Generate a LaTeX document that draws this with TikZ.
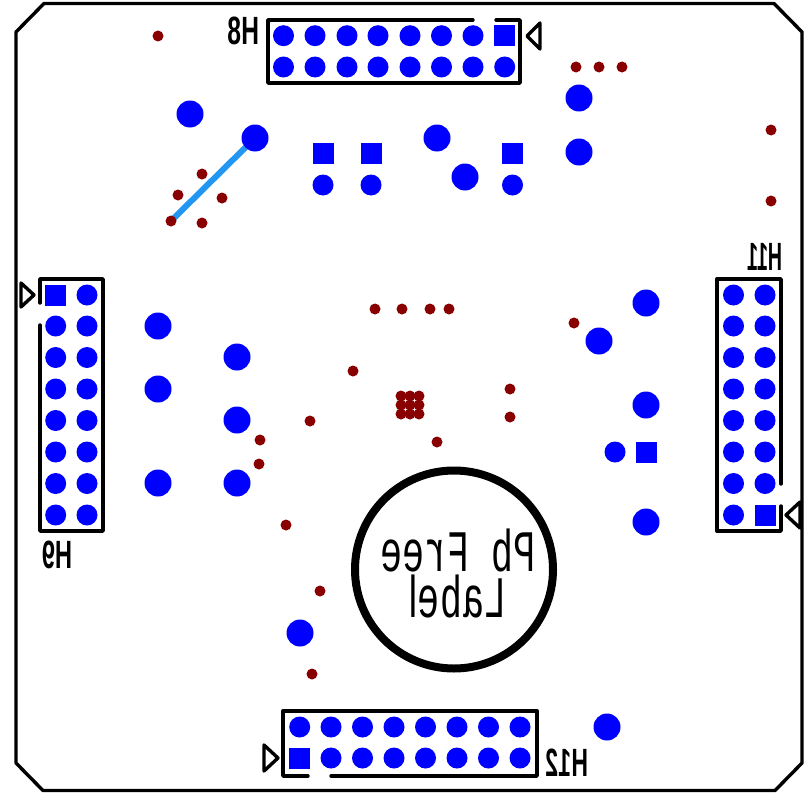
\documentclass[tikz,border=0pt]{standalone}
\usepackage{fontspec}
\setmainfont{Liberation Sans}
\newfontfamily\labelmono{Liberation Mono}
\usetikzlibrary{backgrounds}
\definecolor{padblue}{RGB}{0,0,255}
\definecolor{viared}{RGB}{136,0,0}
\definecolor{traceblue}{RGB}{33,150,243}
\tikzset{
  x=1bp,y=-1bp,
  outline/.style={draw=black,line width=3.4bp,line cap=round,line join=round},
  silk/.style={draw=black,line width=3.4bp,line cap=round,line join=round},
  padc/.style={circle,fill=padblue,inner sep=0pt,minimum size=21bp},
  pads/.style={rectangle,fill=padblue,inner sep=0pt,minimum size=21bp},
  padb/.style={circle,fill=padblue,inner sep=0pt,minimum size=27bp},
  via/.style={circle,fill=viared,inner sep=0pt,minimum size=11bp},
  trace/.style={draw=traceblue,line width=6bp},
  reflabel/.style={inner sep=0pt,font=\fontsize{33}{33}\selectfont\bfseries},
  pbtext/.style={inner sep=0pt,font=\labelmono\fontsize{50}{50}\selectfont},
}
\newcommand{\mirr}[3]{\scalebox{-#1}[#2]{#3}}
\begin{document}
\begin{tikzpicture}
\useasboundingbox (0,0) rectangle (804,794);
\begin{pgfonlayer}{background}
\fill[white] (0,0) rectangle (804,794);
\end{pgfonlayer}
% board outline
\draw[outline] (44,3.5) -- (774,3.5) -- (802,32) -- (802,763) -- (775,790.5) -- (43,790.5) -- (16,763) -- (16,32) -- cycle;
% H8
\draw[silk] (473,20) -- (268,20) -- (268,83) -- (520,83) -- (520,20) -- (496,20);
\draw[silk] (540,23) -- (527,36) -- (540,49) -- cycle;
\foreach \i/\x in {1/283.5,2/315,3/347,4/378,5/410,6/441.5,7/473}{
  \node[padc] (ha\i) at (\x,35.7) {};
}
\node[pads] (ha8) at (504.7,35.7) {};
\foreach \i/\x in {1/283.5,2/315,3/347,4/378,5/410,6/441.5,7/473,8/504.7}{
  \node[padc] (hb\i) at (\x,67) {};
}
\node[reflabel] (lh8) at (244,31) {\mirr{0.75}{1.2}{H8}};
% H9
\draw[silk] (40,303) -- (40,279) -- (103,279) -- (103,531) -- (40,531) -- (40,325);
\draw[silk] (21,283) -- (34,295) -- (21,307) -- cycle;
\node[pads] (ca1) at (55.7,295) {};
\foreach \i/\y in {2/326,3/357.5,4/389,5/420.5,6/452,7/483.5,8/515}{
  \node[padc] (ca\i) at (55.7,\y) {};
}
\foreach \i/\y in {1/295,2/326,3/357.5,4/389,5/420.5,6/452,7/483.5,8/515}{
  \node[padc] (cb\i) at (87,\y) {};
}
\node[reflabel] (lh9) at (57,555) {\mirr{0.72}{1.2}{H9}};
% H11
\draw[silk] (781,484) -- (781,279) -- (717,279) -- (717,531) -- (781,531) -- (781,506);
\draw[silk] (800,502) -- (786,515) -- (800,528) -- cycle;
\node[pads] (da8) at (765,515) {};
\foreach \i/\y in {1/295,2/326,3/357.5,4/389,5/420.5,6/452,7/483.5}{
  \node[padc] (da\i) at (765,\y) {};
}
\foreach \i/\y in {1/295,2/326,3/357.5,4/389,5/420.5,6/452,7/483.5,8/515}{
  \node[padc] (db\i) at (733.5,\y) {};
}
\node[reflabel] (lh11) at (765,257) {\mirr{0.6}{1.2}{H11}};
% H12
\draw[silk] (308,776) -- (283,776) -- (283,711) -- (537,711) -- (537,776) -- (331,776);
\draw[silk] (264,745) -- (278,758) -- (264,771) -- cycle;
\node[pads] (ea1) at (299.7,758) {};
\foreach \i/\x in {2/331,3/362.5,4/394,5/425.5,6/457,7/488.5,8/520}{
  \node[padc] (ea\i) at (\x,758) {};
}
\foreach \i/\x in {1/299.7,2/331,3/362.5,4/394,5/425.5,6/457,7/488.5,8/520}{
  \node[padc] (eb\i) at (\x,727) {};
}
\node[reflabel] (lh12) at (567,763) {\mirr{0.7}{1.2}{H12}};
% large pads
\foreach \n/\x/\y in {a/190/114,b/255/138,c/437/138,d/465/177,e/579/98,f/579/152,g/646/303,h/599/341,i/646/405,j/646/522,k/158/326,l/158/389,m/158/483,n/237/357,o/237/420,p/237/483,q/300/633,r/607/727}{
  \node[padb] (big\n) at (\x,\y) {};
}
% square + round pairs
\foreach \n/\x in {a/323,b/371,c/512.5}{
  \node[pads] (sq\n) at (\x,153) {};
  \node[padc] (rd\n) at (\x,185) {};
}
\node[pads] (sqd) at (646,452) {};
\node[padc] (rdd) at (615,452) {};
% vias
\foreach \n/\x/\y in {a/158/36,b/576/67,c/599/67,d/622/67,e/771/130,f/771/201,g/202/174,h/178/195,i/222/198,j/171/221,k/202/223,l/375/309,m/402/309,n/430/309,o/449/309,p/574/323,q/353/371,r/510/389,s/510/417,t/310/421,u/437/442,v/260/440,w/259/464,x/286/525,y/320/591,z/312/674}{
  \node[via] (via\n) at (\x,\y) {};
}
% via cluster
\foreach \i/\x in {1/401,2/410,3/419}{
  \foreach \j/\y in {1/396,2/405,3/414}{
    \node[via] (vg\i\j) at (\x,\y) {};
  }
}
% trace
\begin{pgfonlayer}{background}
\draw[trace] (bigb.center) -- (viaj.center);
\end{pgfonlayer}
% Pb free label
\node[circle,draw=black,line width=8bp,inner sep=0pt,minimum size=198bp] (pbring) at (454,569.5) {};
\node[pbtext] (pbl1) at (458,550.5) {\mirr{0.74}{1.18}{Pb Free}};
\node[pbtext] (pbl2) at (458,596.5) {\mirr{0.74}{1.18}{Labe{\rmfamily\fontsize{50}{50}\selectfont l}}};
\end{tikzpicture}
\end{document}
